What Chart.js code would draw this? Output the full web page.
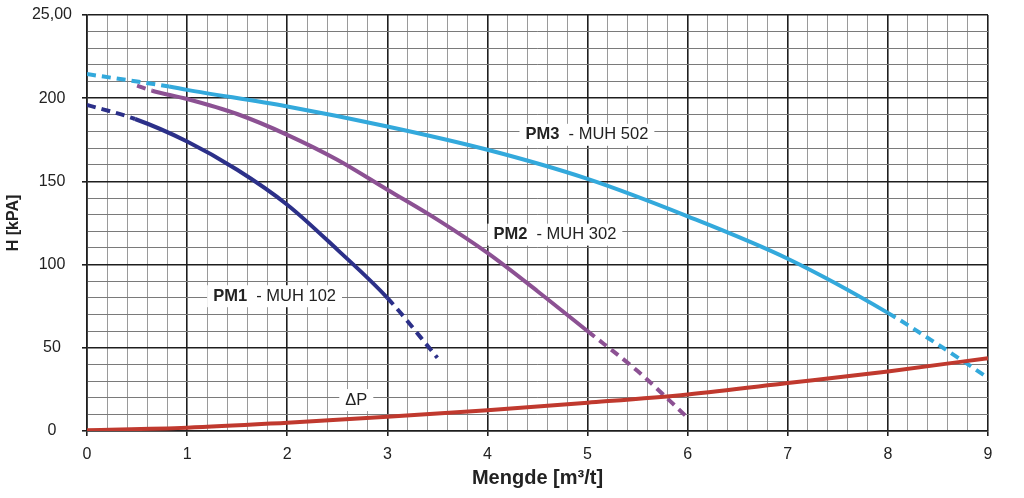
<!DOCTYPE html>
<html><head><meta charset="utf-8">
<script src="https://cdn.jsdelivr.net/npm/chart.js@4/dist/chart.umd.min.js"></script>
<style>html,body{margin:0;padding:0;background:#fff}#wrap{width:1024px;height:498px}</style>
</head><body><div id="wrap"><canvas id="c" width="1024" height="498"></canvas></div>
<script>
// ---- data ----
const pm1X = [0, 0.48, 1, 1.5, 2, 2.5, 3, 3.5];
const pm1Y = [196, 187.5, 174, 157, 136, 109, 80, 44];
const pm1Solid = [0.48, 3];

const pm2X = [0.5, 0.65, 1, 1.5, 2, 2.5, 3, 3.5, 4, 4.5, 5, 5.5, 6];
const pm2Y = [207.5, 204.5, 199.5, 190.5, 178, 163, 145, 127, 107, 84, 60, 36, 8];
const pm2Solid = [0.65, 5];

const pm3X = [0, 0.5, 0.82, 1, 2, 3, 4, 5, 6, 7, 8, 8.5, 9];
const pm3Y = [214.5, 210, 207, 205, 195, 183, 169, 151.5, 129, 103.5, 71, 52, 32];
const pm3Solid = [0.82, 8];

const dpX = [0, 1, 2, 3, 4, 5, 6, 7, 8, 9];
const dpY = [0.5, 2, 5, 8.5, 12.5, 17, 22, 28.8, 35.8, 43.8];

const xTickValues = [0, 1, 2, 3, 4, 5, 6, 7, 8, 9];
const xTickLabels = ['0', '1', '2', '3', '4', '5', '6', '7', '8', '9'];
const yTickValues = [0, 50, 100, 150, 200, 250];
const yTickLabels = ['0', '50', '100', '150', '200', '25,00'];

const curveLabels = [
  {bold: 'PM1', text: '  - MUH 102', x: 1.26, y: 81},
  {bold: 'PM2', text: '  - MUH 302', x: 4.06, y: 118},
  {bold: 'PM3', text: '  - MUH 502', x: 4.38, y: 178},
  {bold: '', text: '\u0394P', x: 2.58, y: 18.6}
];

// ---- helpers ----
const pts = (xs, ys) => xs.map((x, i) => ({x: x, y: ys[i]}));
const near = (v, arr) => arr.findIndex(a => Math.abs(a - v) < 1e-6);
const dashSeg = (range) => ({
  borderDash: ctx => (ctx.p1.parsed.x <= range[0] + 1e-6 || ctx.p0.parsed.x >= range[1] - 1e-6) ? [9, 6] : undefined
});
const FONT = "'Liberation Sans', Arial, sans-serif";

const labelPlugin = {
  id: 'curveLabels',
  afterDatasetsDraw(chart) {
    const {ctx, scales: {x, y}} = chart;
    ctx.save();
    ctx.textBaseline = 'middle';
    curveLabels.forEach(l => {
      const px = x.getPixelForValue(l.x), py = y.getPixelForValue(l.y);
      ctx.font = 'bold 16.5px ' + FONT;
      const wb = l.bold ? ctx.measureText(l.bold).width : 0;
      ctx.font = '16.5px ' + FONT;
      const wt = ctx.measureText(l.text).width;
      ctx.fillStyle = '#fff';
      ctx.fillRect(px - 6, py - 11, wb + wt + 12, 22);
      ctx.fillStyle = '#222';
      if (l.bold) { ctx.font = 'bold 16.5px ' + FONT; ctx.fillText(l.bold, px, py); }
      ctx.font = '16.5px ' + FONT;
      ctx.fillText(l.text, px + wb, py);
    });
    ctx.restore();
  }
};

const isMajorX = v => near(v, xTickValues) >= 0;
const isMajorY = v => near(v, yTickValues) >= 0;

new Chart(document.getElementById('c'), {
  type: 'line',
  data: {
    datasets: [
      {data: pts(dpX, dpY), borderColor: '#c0392e', borderWidth: 4, segment: {}},
      {data: pts(pm1X, pm1Y), borderColor: '#2c3089', borderWidth: 4, segment: dashSeg(pm1Solid)},
      {data: pts(pm2X, pm2Y), borderColor: '#8c5193', borderWidth: 4, segment: dashSeg(pm2Solid)},
      {data: pts(pm3X, pm3Y), borderColor: '#33a9dc', borderWidth: 4, segment: dashSeg(pm3Solid)}
    ]
  },
  options: {
    responsive: false, animation: false, devicePixelRatio: 1,
    layout: {padding: {top: 15, right: 36, left: 0, bottom: 0}},
    elements: {point: {radius: 0}, line: {cubicInterpolationMode: 'monotone', borderCapStyle: 'butt', fill: false}},
    plugins: {legend: {display: false}, tooltip: {enabled: false}},
    scales: {
      x: {
        type: 'linear', min: 0, max: 9,
        afterFit: s => { s.height = 67; s.paddingLeft = 0; s.paddingRight = 0; },
        ticks: {
          stepSize: 0.2, autoSkip: false, maxRotation: 0, padding: 9,
          font: {size: 16, family: FONT}, color: '#222',
          callback: v => { const i = near(v, xTickValues); return i >= 0 ? xTickLabels[i] : ''; }
        },
        grid: {
          color: c => isMajorX(c.tick.value) ? '#1e1e1e' : '#9a9a9a',
          lineWidth: c => isMajorX(c.tick.value) ? 1.6 : 1,
          tickColor: c => isMajorX(c.tick.value) ? '#1e1e1e' : 'rgba(0,0,0,0)',
          tickLength: 5
        },
        border: {color: '#1e1e1e', width: 1.6},
        title: {display: true, text: 'Mengde [m\u00b3/t]', font: {size: 20, weight: 'bold', family: FONT}, color: '#222', padding: {top: 2, bottom: 8}}
      },
      y: {
        min: 0, max: 250,
        afterFit: s => { s.width = 87; s.paddingTop = 0; s.paddingBottom = 0; },
        ticks: {
          stepSize: 10, autoSkip: false, padding: 10, crossAlign: 'center',
          font: {size: 16, family: FONT}, color: '#222',
          callback: v => { const i = near(v, yTickValues); return i >= 0 ? yTickLabels[i] : ''; }
        },
        grid: {
          color: c => isMajorY(c.tick.value) ? '#1e1e1e' : '#7a7a7a',
          lineWidth: c => isMajorY(c.tick.value) ? 1.6 : 1,
          tickColor: c => isMajorY(c.tick.value) ? '#1e1e1e' : 'rgba(0,0,0,0)',
          tickLength: 5
        },
        border: {color: '#1e1e1e', width: 1.6},
        title: {display: true, text: 'H [kPA]', font: {size: 16, weight: 'bold', family: FONT}, color: '#222', padding: {top: 4, bottom: 4}}
      }
    }
  },
  plugins: [labelPlugin]
});
</script></body></html>
